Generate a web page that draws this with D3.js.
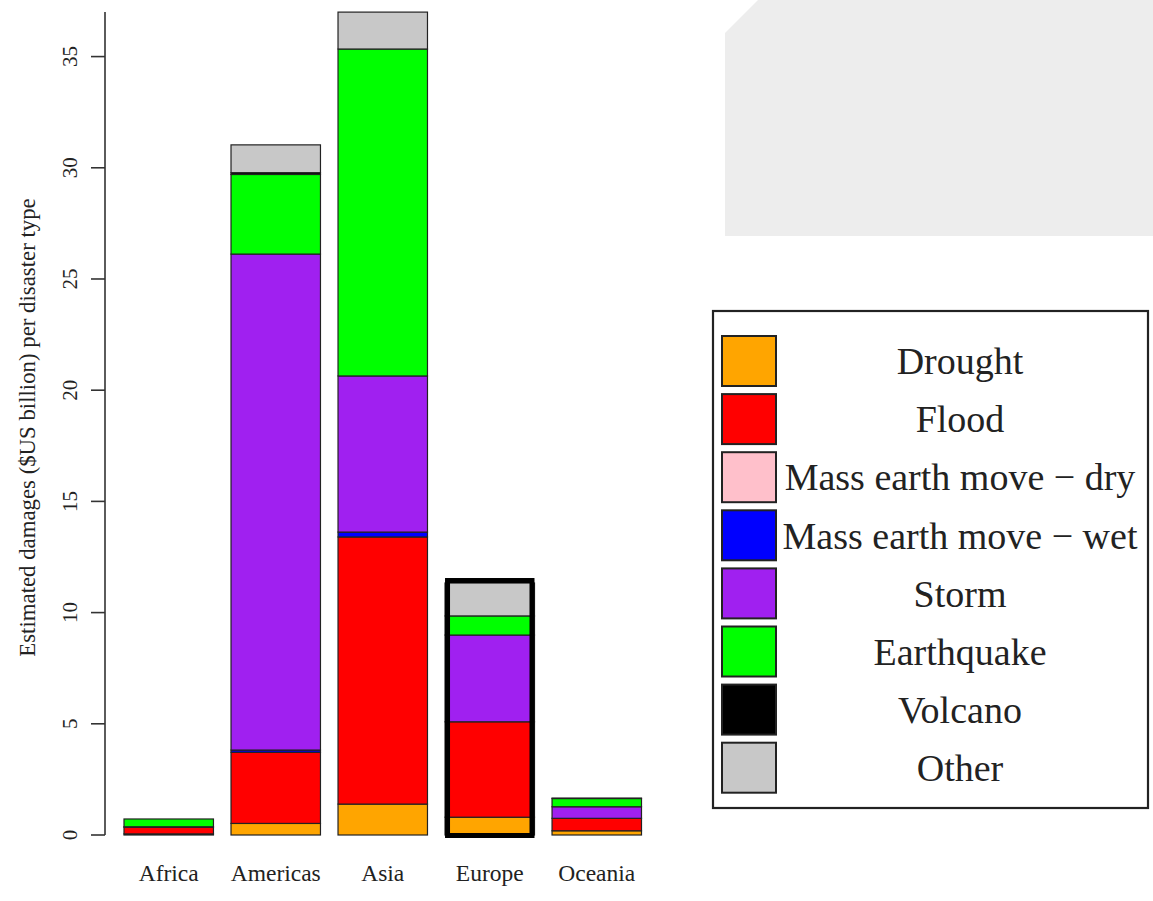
<!DOCTYPE html>
<html>
<head>
<meta charset="utf-8">
<script src="https://cdn.jsdelivr.net/npm/d3@7"></script>
<style>
  html, body { margin: 0; padding: 0; background: #fff; }
  svg { display: block; }
  text { font-family: "Liberation Serif", "DejaVu Serif", serif; fill: #222; }
</style>
</head>
<body>
<svg id="chart" width="1153" height="901"></svg>
<script>
// Estimated damages by region, stacked by disaster type ($US billion)
const regions = ["Africa", "Americas", "Asia", "Europe", "Oceania"];
const disasterTypes = ["Drought", "Flood", "Mass earth move \u2212 dry", "Mass earth move \u2212 wet",
                       "Storm", "Earthquake", "Volcano", "Other"];
const typeColors = ["#FFA500", "#FF0000", "#FFC0CB", "#0000FF", "#A020F0", "#00FF00", "#000000", "#C8C8C8"];

const drought    = [0.05, 0.52, 1.39, 0.80, 0.19];
const flood      = [0.30, 3.20, 12.01, 4.29, 0.56];
const massDry    = [0.00, 0.00, 0.00, 0.00, 0.00];
const massWet    = [0.00, 0.10, 0.22, 0.00, 0.00];
const storm      = [0.02, 22.30, 7.02, 3.90, 0.52];
const earthquake = [0.35, 3.58, 14.70, 0.86, 0.37];
const volcano    = [0.00, 0.08, 0.00, 0.00, 0.00];
const other      = [0.00, 1.25, 1.66, 1.48, 0.02];

const yTicks = [0, 5, 10, 15, 20, 25, 30, 35];
const yMax = 37;
const highlighted = "Europe";

const seriesValues = [drought, flood, massDry, massWet, storm, earthquake, volcano, other];

// table of rows, one per region, for d3.stack
const table = regions.map((r, i) => {
  const row = { region: r };
  disasterTypes.forEach((t, k) => { row[t] = seriesValues[k][i]; });
  return row;
});

const svg = d3.select("#chart");

// light panel in the upper right corner
svg.append("path")
  .attr("d", "M725,33 L758,0 L1153,0 L1153,236 L725,236 Z")
  .attr("fill", "#ededed");

const x = d3.scaleBand().domain(regions).range([124, 641.5]).paddingInner(0.164).paddingOuter(0);
const y = d3.scaleLinear().domain([0, yMax]).range([835, 12.1]);
const color = d3.scaleOrdinal().domain(disasterTypes).range(typeColors);

const stacked = d3.stack().keys(disasterTypes)(table);

// stacked bars
const layers = svg.append("g").selectAll("g").data(stacked).join("g")
  .attr("fill", d => color(d.key));
layers.selectAll("rect")
  .data(d => d.filter(s => s[1] - s[0] > 0))
  .join("rect")
  .attr("x", d => x(d.data.region))
  .attr("width", x.bandwidth())
  .attr("y", d => y(d[1]))
  .attr("height", d => y(d[0]) - y(d[1]))
  .attr("stroke", "#222")
  .attr("stroke-width", 1.2);

// heavy outline around the highlighted region
const hiTotal = d3.sum(seriesValues, s => s[regions.indexOf(highlighted)]);
svg.append("rect")
  .attr("x", x(highlighted) + 2.5)
  .attr("width", x.bandwidth() - 5)
  .attr("y", y(hiTotal) - 2.5)
  .attr("height", y(0) + 0.5 - (y(hiTotal) - 2.5))
  .attr("fill", "none")
  .attr("stroke", "#000")
  .attr("stroke-width", 5);

// y axis
const yAxis = svg.append("g").attr("transform", "translate(105,0)");
yAxis.append("line")
  .attr("x1", 0).attr("x2", 0)
  .attr("y1", y(0)).attr("y2", y(yMax))
  .attr("stroke", "#333").attr("stroke-width", 1.6);
yAxis.selectAll("line.tick").data(yTicks).join("line")
  .attr("class", "tick")
  .attr("x1", -14).attr("x2", 0)
  .attr("y1", d => y(d)).attr("y2", d => y(d))
  .attr("stroke", "#333").attr("stroke-width", 1.6);
yAxis.selectAll("text").data(yTicks).join("text")
  .attr("transform", d => `translate(-28,${y(d)}) rotate(-90)`)
  .attr("text-anchor", "middle")
  .attr("font-size", 21)
  .text(d => d);

// y axis title
svg.append("text")
  .attr("transform", `translate(35,${(200 + 655) / 2}) rotate(-90)`)
  .attr("text-anchor", "middle")
  .attr("font-size", 22.8)
  .text("Estimated damages ($US billion) per disaster type");

// category labels
svg.append("g").selectAll("text").data(regions).join("text")
  .attr("x", d => x(d) + x.bandwidth() / 2)
  .attr("y", 881)
  .attr("text-anchor", "middle")
  .attr("font-size", 23.5)
  .text(d => d);

// legend
const legend = svg.append("g");
legend.append("rect")
  .attr("x", 713).attr("y", 311)
  .attr("width", 435).attr("height", 497)
  .attr("fill", "#fff")
  .attr("stroke", "#222").attr("stroke-width", 2.2);

const rowStep = 58.1;
const items = legend.selectAll("g.item").data(disasterTypes).join("g")
  .attr("class", "item")
  .attr("transform", (d, i) => `translate(0,${336 + i * rowStep})`);
items.append("rect")
  .attr("x", 722).attr("y", 0)
  .attr("width", 54).attr("height", 50)
  .attr("fill", d => color(d))
  .attr("stroke", "#222").attr("stroke-width", 2);
items.append("text")
  .attr("x", 960).attr("y", 25)
  .attr("dy", "0.35em")
  .attr("text-anchor", "middle")
  .attr("font-size", 38)
  .text(d => d);
</script>
</body>
</html>
